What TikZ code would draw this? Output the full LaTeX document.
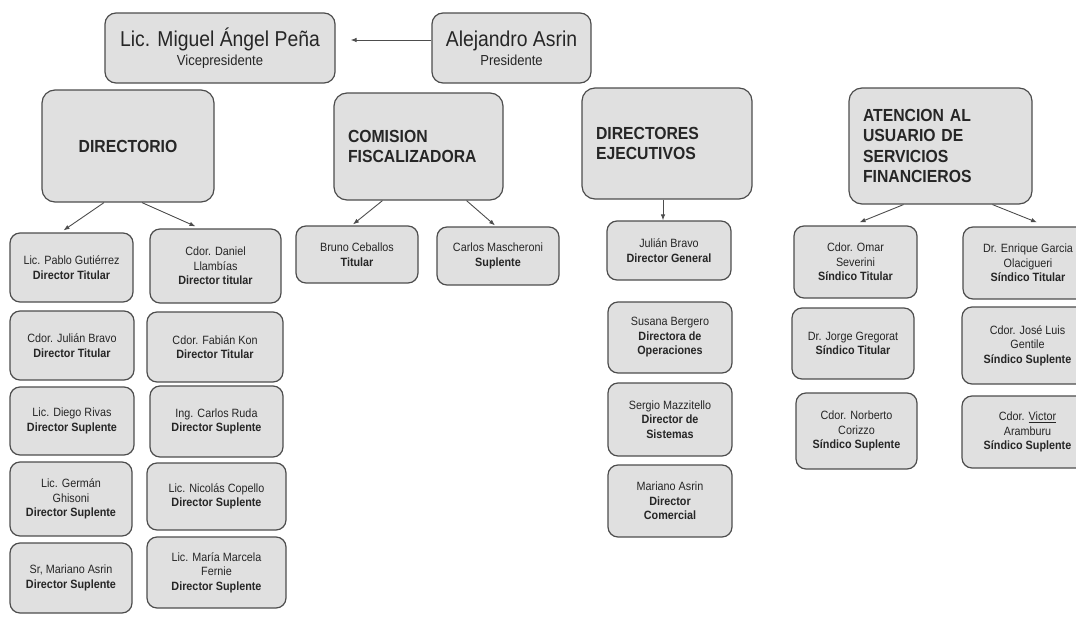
\documentclass[tikz,border=0pt]{standalone}
\usepackage{fontspec}
\setmainfont[FakeStretch=0.9]{Liberation Sans}
\usetikzlibrary{arrows.meta}
\definecolor{boxfill}{HTML}{E0E0E0}
\definecolor{boxline}{HTML}{4D4D4D}
\definecolor{txtgray}{HTML}{262626}

\begin{document}
\begin{tikzpicture}[x=1pt, y=-1pt,
	box/.style={draw=boxline, fill=boxfill, line width=1.2pt, rounded corners=10pt, inner sep=0pt, text=txtgray},
	chief/.style={box, rounded corners=11pt, align=center, minimum height=70pt, font=\fontsize{21.5}{19}\selectfont},
	head/.style={box, rounded corners=13pt, inner xsep=14pt, font=\fontsize{17.5}{20.5}\selectfont\bfseries},
	person/.style={box, align=center, font=\fontsize{12}{14.5}\selectfont},
	arr/.style={-{Latex[length=6pt,width=4.5pt]}, draw=boxline, line width=0.9pt}]
	\useasboundingbox (0,0) rectangle (1076,637);

	% Presidencia
	\node[chief, minimum width=230pt] (vp) at (220,48) {Lic. Miguel Ángel Peña\\{\fontsize{14.5}{16}\selectfont Vicepresidente}};
	\node[chief, minimum width=159pt] (pres) at (511.5,48) {Alejandro Asrin\\{\fontsize{14.5}{16}\selectfont Presidente}};
	\draw[arr] ([yshift=8pt]pres.west) -- ([xshift=15pt,yshift=8pt]vp.east);

	% Areas
	\node[head, align=center, minimum width=172pt, minimum height=112pt] (dir) at (128,146) {DIRECTORIO};
	\node[head, align=left, text width=141pt, minimum height=107pt] (com) at (418.5,146.5) {COMISION\\FISCALIZADORA};
	\node[head, align=left, text width=142pt, minimum height=111pt] (dej) at (667,143.5) {DIRECTORES\\EJECUTIVOS};
	\node[head, align=left, text width=155pt, minimum height=116pt] (aus) at (940.5,146) {ATENCION AL\\USUARIO DE\\SERVICIOS\\FINANCIEROS};

	% Directorio
	\node[person, minimum width=123pt, minimum height=69pt] (pablo) at (71.5,267.5) {Lic. Pablo Gutiérrez\\\textbf{Director Titular}};
	\node[person, minimum width=124pt, minimum height=69pt] (jbravo) at (72,345.5) {Cdor. Julián Bravo\\\textbf{Director Titular}};
	\node[person, minimum width=124pt, minimum height=68pt] (diego) at (72,421) {Lic. Diego Rivas\\\textbf{Director Suplente}};
	\node[person, minimum width=122pt, minimum height=74pt] (german) at (71,499) {Lic. Germán\\Ghisoni\\\textbf{Director Suplente}};
	\node[person, minimum width=122pt, minimum height=70pt] (masrin) at (71,578) {Sr, Mariano Asrin\\\textbf{Director Suplente}};
	\node[person, minimum width=131pt, minimum height=74pt] (daniel) at (215.5,266) {Cdor. Daniel\\Llambías\\\textbf{Director titular}};
	\node[person, minimum width=136pt, minimum height=70pt] (fabian) at (215,347) {Cdor. Fabián Kon\\\textbf{Director Titular}};
	\node[person, minimum width=133pt, minimum height=71pt] (cruda) at (216.5,421.5) {Ing. Carlos Ruda\\\textbf{Director Suplente}};
	\node[person, minimum width=139pt, minimum height=67pt] (nicolas) at (216.5,496.5) {Lic. Nicolás Copello\\\textbf{Director Suplente}};
	\node[person, minimum width=139pt, minimum height=71pt] (maria) at (216.5,572.5) {Lic. María Marcela\\Fernie\\\textbf{Director Suplente}};
	\draw[arr] ([xshift=-24pt]dir.south) -- ([xshift=-8pt,yshift=2pt]pablo.north);
	\draw[arr] ([xshift=14pt]dir.south) -- ([xshift=-20pt,yshift=2pt]daniel.north);

	% Comision fiscalizadora
	\node[person, minimum width=122pt, minimum height=57pt] (bruno) at (357,254.5) {Bruno Ceballos\\\textbf{Titular}};
	\node[person, minimum width=122pt, minimum height=58pt] (carlos) at (498,256) {Carlos Mascheroni\\\textbf{Suplente}};
	\draw[arr] ([xshift=-36pt]com.south) -- ([xshift=-4pt,yshift=1pt]bruno.north);
	\draw[arr] ([xshift=48pt]com.south) -- ([xshift=-3pt,yshift=1pt]carlos.north);

	% Directores ejecutivos
	\node[person, minimum width=124pt, minimum height=59pt] (jgral) at (669,250.5) {Julián Bravo\\\textbf{Director General}};
	\node[person, minimum width=124pt, minimum height=71pt] (susana) at (670,337.5) {Susana Bergero\\\textbf{Directora de}\\\textbf{Operaciones}};
	\node[person, minimum width=124pt, minimum height=73pt] (sergio) at (670,419.5) {Sergio Mazzitello\\\textbf{Director de}\\\textbf{Sistemas}};
	\node[person, minimum width=124pt, minimum height=72pt] (mariano) at (670,501) {Mariano Asrin\\\textbf{Director}\\\textbf{Comercial}};
	\draw[arr] ([xshift=-4pt]dej.south) -- ([xshift=-6pt]jgral.north);

	% Atencion al usuario
	\node[person, minimum width=123pt, minimum height=72pt] (omar) at (855.5,262) {Cdor. Omar\\Severini\\\textbf{Síndico Titular}};
	\node[person, minimum width=122pt, minimum height=71pt] (jorge) at (853,343.5) {Dr. Jorge Gregorat\\\textbf{Síndico Titular}};
	\node[person, minimum width=121pt, minimum height=76pt] (norberto) at (856.5,431) {Cdor. Norberto\\Corizzo\\\textbf{Síndico Suplente}};
	\node[person, minimum width=130pt, minimum height=72pt] (enrique) at (1028,263) {Dr. Enrique Garcia\\Olacigueri\\\textbf{Síndico Titular}};
	\node[person, minimum width=131pt, minimum height=77pt] (jose) at (1027.5,345.5) {Cdor. José Luis\\Gentile\\\textbf{Síndico Suplente}};
	\node[person, minimum width=131pt, minimum height=72pt] (victor) at (1027.5,432) {Cdor. \underline{Victor}\\Aramburu\\\textbf{Síndico Suplente}};
	\draw[arr] ([xshift=-37pt]aus.south) -- ([xshift=4pt,yshift=3pt]omar.north);
	\draw[arr] ([xshift=52pt]aus.south) -- ([xshift=9pt,yshift=4pt]enrique.north);
\end{tikzpicture}
\end{document}
